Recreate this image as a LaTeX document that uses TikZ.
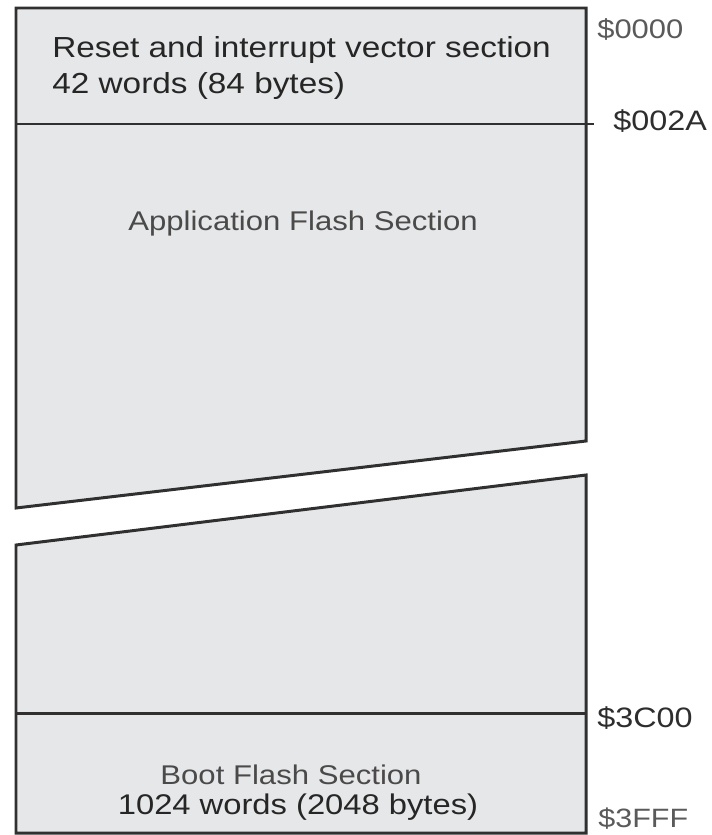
\documentclass[tikz,border=0pt]{standalone}
\usepackage{fontspec}
\setmainfont{Liberation Sans}[FakeStretch=1.15]
\usetikzlibrary{positioning}
\definecolor{memFill}{HTML}{E6E7E8}
\definecolor{memEdge}{HTML}{303030}
\definecolor{addrGray}{HTML}{5A5A5A}
\definecolor{addrDark}{HTML}{2E2E2E}
\definecolor{secGray}{HTML}{4A4A4A}
\tikzset{
  memBlock/.style={draw=memEdge, fill=memFill, line width=1.7pt, line join=miter},
  memLine/.style={draw=memEdge, line width=1.7pt},
  secText/.style={inner sep=0pt, anchor=base, text=secGray,
                  font=\fontsize{15.4}{18}\selectfont},
  bigText/.style={inner sep=0pt, anchor=base west, text=black!85,
                  font=\fontsize{16.5}{20}\selectfont},
  addrLbl/.style={anchor=base west, inner sep=0pt, text=addrDark,
                  font=\fontsize{16}{20}\selectfont},
}

\begin{document}
\begin{tikzpicture}[x=0.02cm, y=-0.02cm]
    \useasboundingbox (0,0) rectangle (711,835);
    % upper part of the map, cut by the slanted break
    \path[memBlock] (16,8) -- (586,8) -- (586,441) -- (16,508) -- cycle;
    % lower part of the map
    \path[memBlock] (16,545) -- (586,475) -- (586,833) -- (16,833) -- cycle;
    \draw[memLine] (16,124) -- (594,124);
    \draw[memLine] (16,713) -- (586,713);

    \node[bigText] (vec) at (52,57) {Reset and interrupt vector section};
    \node[bigText] (vecsz) at (52,93) {42 words (84 bytes)};
    \node[secText] (app) at (303,230) {Application Flash Section};
    \node[secText] (boot) at (291,784) {Boot Flash Section};
    \node[bigText, anchor=base, font=\fontsize{16.2}{20}\selectfont] (bootsz) at (298,814)
      {1024 words (2048 bytes)};

    \node[addrLbl, text=addrGray, font=\fontsize{15.3}{20}\selectfont] (a0) at (597,38) {\$0000};
    \node[addrLbl] (a1) at (613,130) {\$002A};
    \node[addrLbl] (a2) at (597,727) {\$3C00};
    \node[addrLbl, text=addrGray, font=\fontsize{15.1}{20}\selectfont] (a3) at (598,827) {\$3FFF};
  \end{tikzpicture}
\end{document}
